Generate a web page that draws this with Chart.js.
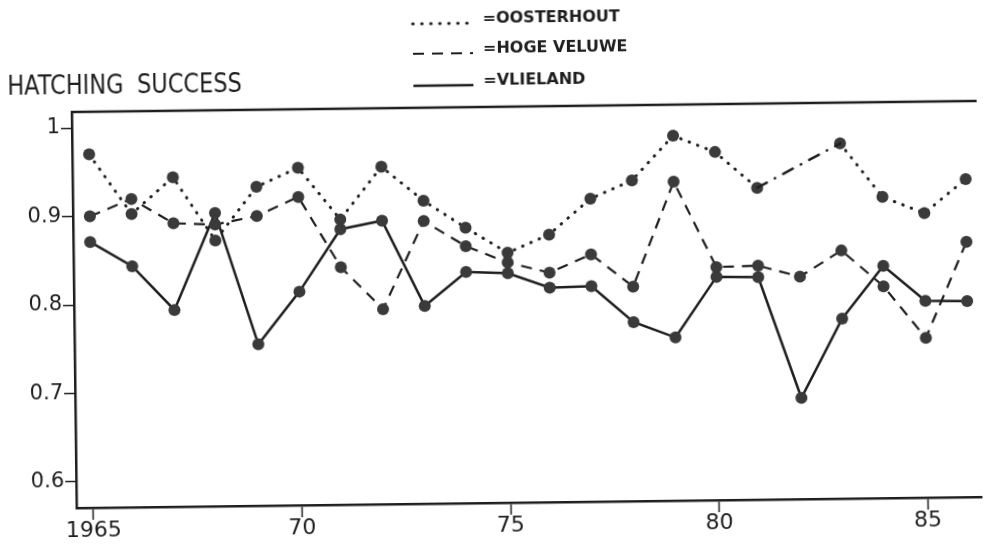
<!DOCTYPE html>
<html>
<head>
<meta charset="utf-8">
<script src="https://cdn.jsdelivr.net/npm/chart.js@4"></script>
<style>
    html, body { margin: 0; padding: 0; background: #fff; overflow: hidden; }
    #wrap { width: 985px; height: 544px; }
    /* the scanned figure sits slightly tilted */
    #chart { transform: rotate(-0.7deg); transform-origin: 74px 300px; }
</style>
</head>
<body>
<div id="wrap"><canvas id="chart" width="985" height="544"></canvas></div>
<script>
const years = [1965, 1966, 1967, 1968, 1969, 1970, 1971, 1972, 1973, 1974, 1975,
    1976, 1977, 1978, 1979, 1980, 1981, 1982, 1983, 1984, 1985, 1986];

const oosterhout = [0.970, 0.902, 0.943, 0.871, 0.931, 0.952, 0.893, 0.952, 0.913, 0.882, 0.853,
    0.873, 0.913, 0.933, 0.983, 0.964, 0.923, null, 0.972, 0.911, 0.892, 0.930];
const hogeVeluwe = [0.900, 0.919, 0.891, 0.889, 0.898, 0.919, 0.839, 0.791, 0.890, 0.861, 0.842,
    0.830, 0.850, 0.813, 0.931, 0.834, 0.835, 0.822, 0.851, 0.810, 0.751, 0.859];
const vlieland = [0.871, 0.843, 0.793, 0.902, 0.753, 0.812, 0.882, 0.891, 0.794, 0.832, 0.830,
    0.813, 0.814, 0.773, 0.755, 0.823, 0.822, 0.685, 0.774, 0.833, 0.793, 0.792];

const seriesNames = ['OOSTERHOUT', 'HOGE VELUWE', 'VLIELAND'];
const xTicks = [1965, 1970, 1975, 1980, 1985];
const xTickLabels = ['1965', '70', '75', '80', '85'];
const yTicks = [0.6, 0.7, 0.8, 0.9, 1];
const yTickLabels = ['0.6', '0.7', '0.8', '0.9', '1'];
const titleText = 'HATCHING SUCCESS';

const ink = '#1e1e1e';
const dotFill = '#3a3a3a';
const gapDash = [11, 9, 0.5, 9];

const points = (values) => years.map((year, i) => ({ x: year, y: values[i] }));

const lineStyles = [
    { borderDash: [0.5, 8.5], borderWidth: 3, borderCapStyle: 'round' },
    { borderDash: [11, 8], borderWidth: 2.2, borderCapStyle: 'butt' },
    { borderDash: [], borderWidth: 2.5, borderCapStyle: 'butt' },
];

const allSeries = [oosterhout, hogeVeluwe, vlieland];

const datasets = allSeries.map((values, i) => ({
    label: seriesNames[i],
    data: points(values),
    borderColor: ink,
    backgroundColor: dotFill,
    pointBackgroundColor: dotFill,
    pointBorderWidth: 0,
    pointRadius: 6,
    pointHoverRadius: 6,
    tension: 0,
    fill: false,
    spanGaps: true,
    ...lineStyles[i],
}));

const hasGap = (values, ctx) => values
    .slice(ctx.p0DataIndex, ctx.p1DataIndex + 1)
    .some((v) => v === null);

// the span over a missing year is left to the plugin below
datasets.forEach((ds, i) => {
    ds.segment = {
        borderColor: (ctx) => (hasGap(allSeries[i], ctx) ? 'rgba(0,0,0,0)' : undefined),
    };
});

const framePlugin = {
    id: 'frame',
    afterDatasetsDraw(chart) {
        const { ctx } = chart;
        chart.data.datasets.forEach((ds, i) => {
            const values = allSeries[i];
            const meta = chart.getDatasetMeta(i);
            let prev = null;
            values.forEach((v, j) => {
                if (v === null) {
                    return;
                }
                if (prev !== null && j - prev > 1) {
                    const a = meta.data[prev];
                    const b = meta.data[j];
                    ctx.save();
                    ctx.strokeStyle = ink;
                    ctx.lineWidth = 2.5;
                    ctx.lineCap = 'round';
                    ctx.setLineDash(gapDash);
                    ctx.beginPath();
                    ctx.moveTo(a.x, a.y);
                    ctx.lineTo(b.x, b.y);
                    ctx.stroke();
                    ctx.restore();
                }
                prev = j;
            });
        });
    },
    afterDraw(chart) {
        const { ctx, chartArea } = chart;

        ctx.save();
        ctx.strokeStyle = ink;
        ctx.lineWidth = 2.5;
        ctx.beginPath();
        ctx.moveTo(chartArea.left - 1, chartArea.top);
        ctx.lineTo(chartArea.right, chartArea.top);
        ctx.stroke();

        // title, hand lettered and narrow in the original
        ctx.fillStyle = ink;
        ctx.font = '27px "DejaVu Sans"';
        ctx.textBaseline = 'alphabetic';
        ctx.wordSpacing = '8px';
        ctx.translate(10, 94);
        ctx.scale(0.83, 1);
        ctx.fillText(titleText, 0, 0);
        ctx.restore();

        // legend rows: sample stroke, then "=NAME"
        const rowY = [28, 58, 90];
        chart.data.datasets.forEach((ds, i) => {
            ctx.save();
            ctx.strokeStyle = ink;
            ctx.lineWidth = ds.borderWidth;
            ctx.lineCap = ds.borderCapStyle;
            ctx.setLineDash(ds.borderDash);
            ctx.beginPath();
            ctx.moveTo(416, rowY[i]);
            ctx.lineTo(476, rowY[i]);
            ctx.stroke();
            ctx.setLineDash([]);
            ctx.fillStyle = ink;
            ctx.font = 'bold 16px "DejaVu Sans"';
            ctx.textBaseline = 'alphabetic';
            ctx.fillText('=' + ds.label, 486, rowY[i]);
            ctx.restore();
        });
    },
};

new Chart(document.getElementById('chart'), {
    type: 'line',
    data: { datasets },
    options: {
        responsive: false,
        animation: false,
        devicePixelRatio: 1,
        layout: { padding: { top: 112, left: 0, right: 0, bottom: 0 } },
        plugins: {
            legend: { display: false },
            tooltip: { enabled: false },
        },
        scales: {
            x: {
                type: 'linear',
                min: 1964.595,
                max: 1986.286,
                afterFit: (scale) => { scale.height = 36; },
                afterBuildTicks: (scale) => { scale.ticks = xTicks.map((value) => ({ value })); },
                ticks: {
                    callback: (value, index) => xTickLabels[index],
                    font: { family: 'DejaVu Sans', size: 22 },
                    color: ink,
                    padding: -2,
                    maxRotation: 0,
                    autoSkip: false,
                },
                grid: { drawOnChartArea: false, drawTicks: true, tickLength: 12, tickColor: ink, tickWidth: 1.5 },
                border: { display: true, color: ink, width: 2.5 },
            },
            y: {
                min: 0.5706,
                max: 1.0181,
                afterFit: (scale) => { scale.width = 74; },
                afterBuildTicks: (scale) => { scale.ticks = yTicks.map((value) => ({ value })); },
                ticks: {
                    callback: (value, index) => yTickLabels[index],
                    font: { family: 'DejaVu Sans', size: 21 },
                    color: ink,
                    padding: 1,
                },
                grid: { drawOnChartArea: false, drawTicks: true, tickLength: 11, tickColor: ink, tickWidth: 1.5 },
                border: { display: true, color: ink, width: 2.5 },
            },
        },
    },
    plugins: [framePlugin],
});
</script>
</body>
</html>
